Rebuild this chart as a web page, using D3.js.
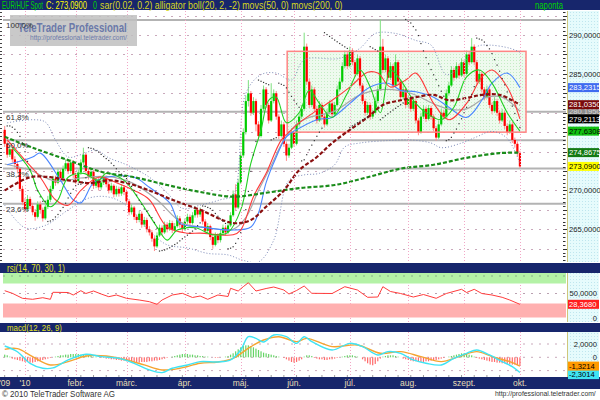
<!DOCTYPE html>
<html><head><meta charset="utf-8">
<script src="https://cdn.jsdelivr.net/npm/d3@7"></script>
<style>body{margin:0;background:#fff}svg{display:block;font-family:"Liberation Sans",Arial,sans-serif}</style>
</head><body><svg id="c" width="600" height="400"></svg>
<script>
// ---------------- DATA ----------------
const firstOpen = 277.8;
const close = [276.0,274.6,275.3,274.0,273.4,272.8,270.2,268.5,267.6,268.9,
268.0,267.2,266.6,268.2,267.5,266.4,267.9,268.8,270.2,271.5,
271.0,272.4,271.6,272.8,273.5,272.5,273.6,272.0,271.2,272.3,
273.6,274.6,272.5,271.8,272.4,270.6,271.4,270.4,271.0,271.6,
270.8,270.0,270.6,269.5,270.2,269.6,270.4,269.8,268.6,267.2,
267.8,266.6,266.2,267.0,265.6,266.2,265.0,264.6,263.8,262.8,
264.2,265.2,264.6,265.6,265.0,265.8,264.9,265.4,266.4,265.6,
265.0,266.0,266.6,265.8,266.8,267.5,266.9,267.4,266.0,264.8,
265.4,264.0,263.0,264.2,263.6,264.5,265.2,264.6,265.5,266.8,
269.5,267.8,271.0,274.5,277.5,281.5,282.5,280.0,281.5,278.5,
277.0,280.5,283.0,281.0,279.0,281.5,282.5,279.5,277.0,278.5,
276.0,274.5,275.5,277.5,276.0,278.5,279.5,280.5,288.5,284.0,
281.0,283.0,280.5,279.0,281.0,279.5,278.5,280.0,281.2,279.8,
281.0,283.0,284.0,286.0,287.5,286.0,288.0,286.5,285.0,287.0,
283.5,281.5,280.0,281.0,279.5,280.0,281.5,283.0,288.5,285.5,
287.0,284.5,286.0,283.5,286.5,284.0,282.0,283.0,281.0,281.8,
280.5,281.5,279.0,277.5,279.5,280.5,279.2,280.6,279.5,278.0,
276.8,278.5,280.0,279.5,282.5,283.5,285.5,284.5,286.0,284.8,
286.5,285.0,287.5,286.5,288.5,286.5,284.0,285.0,283.0,282.0,
283.0,281.0,280.2,281.5,280.0,279.0,280.0,278.3,277.5,278.5,
276.5,276.0,274.8,273.09];
const high = [278.3,276.4,275.8,275.6,274.4,273.8,273.0,270.6,269.0,269.4,
269.2,268.4,267.6,268.6,268.6,267.8,268.3,269.3,270.6,271.9,
271.9,272.8,272.7,273.2,274.0,273.8,274.0,273.9,272.3,272.7,
274.0,275.5,274.8,272.9,272.8,272.6,271.8,271.7,271.4,272.0,
271.9,271.1,271.0,270.8,270.6,270.5,270.8,270.7,270.1,268.9,
268.2,268.0,266.9,267.4,267.3,266.6,266.5,265.4,264.9,264.1,
264.6,265.6,265.5,266.0,265.9,266.2,266.1,265.8,266.8,266.7,
265.9,266.4,267.0,266.9,267.2,268.0,267.8,267.8,267.6,266.3,
265.8,265.6,264.3,264.6,264.5,264.9,265.6,265.5,265.9,267.2,
270.0,270.8,271.5,275.0,278.0,282.2,284.2,282.8,282.0,281.8,
278.9,281.0,283.5,283.3,281.3,283.8,283.0,282.8,279.8,279.0,
278.8,276.3,276.0,278.0,277.8,279.0,280.0,281.0,290.3,288.9,
284.4,283.5,283.3,280.9,281.5,281.3,279.9,280.5,281.6,281.5,
281.4,283.5,284.5,286.5,288.0,287.8,288.5,288.3,286.8,287.5,
287.3,283.8,281.8,281.4,281.3,280.4,282.0,283.5,292.0,289.5,
287.5,287.3,286.5,286.3,287.5,286.8,284.3,283.5,283.3,282.3,
282.1,282.0,281.8,279.3,280.0,281.0,280.8,281.0,280.9,279.8,
278.3,279.0,280.5,280.4,283.0,284.0,286.0,285.8,286.5,286.3,
287.0,286.8,288.0,287.8,289.6,288.8,286.8,285.5,285.3,283.3,
283.5,283.3,281.3,282.0,281.8,280.3,280.5,280.3,278.6,279.0,
278.8,276.8,276.3,275.1];
const low = [275.6,274.2,274.3,273.6,272.9,272.3,269.9,268.1,267.2,267.3,
267.6,266.8,266.1,266.4,267.0,266.0,266.2,267.6,268.5,270.0,
270.6,270.8,271.2,271.4,272.5,272.1,272.2,271.6,270.8,271.0,
272.0,273.3,272.2,271.4,271.5,270.2,270.3,270.0,270.1,270.7,
270.4,269.6,269.7,269.1,269.2,269.2,269.3,269.4,268.2,266.8,
266.9,266.2,265.8,265.9,265.2,265.3,264.6,264.2,263.4,262.2,
262.6,264.0,264.2,264.4,264.6,264.8,264.5,264.6,265.2,265.2,
264.6,264.8,265.7,265.4,265.6,266.5,266.5,266.6,265.6,264.4,
264.5,263.6,262.5,262.8,263.2,263.3,264.2,264.2,264.4,265.3,
266.6,267.4,267.6,270.8,274.2,277.2,280.8,279.6,279.7,277.6,
276.5,276.8,280.2,280.6,278.6,278.8,281.2,279.1,276.6,276.8,
275.6,273.8,274.2,275.3,275.6,275.8,278.2,279.2,280.2,283.6,
280.6,280.7,280.1,278.6,278.8,279.1,278.1,278.3,279.8,279.4,
279.6,280.8,282.7,283.8,285.7,285.6,285.8,286.1,284.6,284.8,
283.1,281.1,279.6,279.7,279.1,279.2,279.8,281.2,282.8,285.1,
285.2,284.1,284.2,283.1,283.3,283.6,281.6,281.7,280.6,280.7,
280.1,280.2,278.6,277.1,277.3,279.2,278.8,279.0,279.1,277.6,
276.4,276.6,278.3,279.1,279.3,282.2,283.3,284.1,284.3,284.4,
284.6,284.6,284.8,286.1,286.3,286.1,283.6,283.7,282.6,281.6,
281.8,280.6,279.8,280.0,279.6,278.6,278.8,277.9,277.1,277.3,
276.1,275.5,274.4,272.9];

// indicator readings: [candle index, value]
const sma200 = [[0,276.9],[11,275.5],[25,273.9],[38,272.4],[51,271.7],[64,270.7],[77,269.8],[90,269.2],[103,269.7],[116,270.3],[130,270.7],[143,271.7],[156,272.8],[169,273.3],[182,274.2],[195,274.8],[203,274.8675]];
const sma50 = [[0,270.0],[10,271.7],[18,271.7],[25,271.3],[34,270.95],[41,271.3],[48,270.95],[57,270.0],[66,268.8],[77,267.5],[90,265.8],[97,266.2],[103,267.9],[110,270.0],[116,272.6],[123,274.3],[129,276.1],[136,277.8],[143,279.4],[149,281.0],[156,281.6],[162,282.0],[169,282.3],[175,281.6],[182,281.9],[188,282.3],[195,282.3],[203,281.035]];
const bollUp = [[1,278.7],[11,279.1],[16,278.8],[20,276.5],[25,274.3],[30,274.6],[36,275.2],[41,274.2],[48,273.3],[57,271.7],[64,269.7],[70,267.7],[77,268.1],[85,268.8],[90,269.4],[95,282.5],[101,284.9],[107,285.1],[113,284.2],[118,286.8],[132,287.0],[140,288.3],[146,290.2],[154,290.2],[162,289.3],[168,288.7],[174,284.9],[180,286.1],[186,288.5],[191,288.7],[199,288.3],[203,287.8]];
const bollLo = [[0,268.1],[8,265.2],[16,265.5],[25,267.5],[33,269.0],[40,269.2],[46,268.5],[52,266.8],[58,264.5],[64,263.0],[72,262.6],[80,261.9],[88,261.7],[94,261.0],[100,260.8],[106,263.6],[112,271.3],[118,272.0],[124,272.2],[130,273.3],[134,275.6],[140,276.1],[150,276.4],[160,276.5],[168,276.1],[172,275.5],[180,276.1],[186,276.9],[192,277.6],[198,276.7],[203,273.5]];
const bollMid = [[0,273.4],[10,272.6],[20,271.2],[30,271.6],[40,271.8],[50,271.0],[60,268.8],[70,265.8],[80,265.2],[90,265.0],[95,266.5],[100,270.0],[105,273.2],[110,276.5],[115,278.5],[120,279.4],[130,280.2],[140,282.3],[150,283.0],[160,282.5],[170,281.0],[176,280.4],[182,280.5],[190,282.0],[196,282.0],[203,280.195]];
const jaw = [[1,273.3],[11,274.3],[14,274.8],[22,271.3],[27,268.8],[30,268.4],[35,271.0],[40,271.7],[51,271.7],[57,270.4],[65,268.4],[69,265.8],[77,265.3],[90,264.9],[97,265.3],[100,267.1],[103,271.0],[107,274.3],[111,276.9],[115,277.8],[123,279.1],[129,279.4],[136,281.2],[144,283.3],[151,283.8],[156,282.9],[162,282.7],[169,282.0],[175,280.7],[182,279.4],[188,281.6],[192,283.8],[198,285.1],[203,283.2315]];
const teeth = [[1,276.5],[8,273.9],[14,271.7],[20,268.8],[25,268.1],[30,270.0],[37,271.7],[44,271.0],[51,270.0],[57,268.8],[64,265.3],[72,264.5],[77,264.5],[90,264.3],[93,264.9],[98,269.2],[103,272.2],[109,276.5],[113,277.8],[116,278.7],[123,280.3],[129,281.6],[136,283.3],[143,285.2],[147,285.1],[152,283.3],[158,284.2],[162,285.1],[169,281.2],[175,279.1],[182,281.2],[188,284.6],[192,285.5],[198,283.3],[203,279.2113]];
const lips = [[3,275.5],[10,272.6],[13,270.0],[18,267.9],[21,268.8],[25,271.7],[31,272.2],[37,271.3],[40,272.2],[47,271.3],[53,268.8],[60,265.3],[64,263.6],[68,264.9],[75,265.2],[82,264.3],[88,264.6],[93,267.5],[97,273.5],[101,277.8],[104,281.6],[107,282.0],[111,278.7],[116,280.0],[120,282.9],[124,281.2],[129,279.4],[135,282.5],[140,285.5],[144,283.3],[148,280.0],[152,285.5],[156,284.2],[161,281.6],[166,280.0],[172,279.1],[177,280.7],[182,284.6],[187,285.5],[192,283.8],[198,280.0],[203,277.6308]];
const rsi = [[0,55.6],[3,50.4],[7,40.4],[11,38.4],[15,41.6],[18,38.4],[19,52.4],[25,52],[27,47],[30,55.6],[32,50],[35,55],[38,49],[41,43.6],[44,47],[48,40.4],[53,37],[57,33.6],[60,28.4],[62,37],[66,47],[70,50.4],[74,42],[77,45],[80,38.4],[84,47],[88,44],[89,60.4],[92,55],[94,63.6],[96,71.6],[99,55],[103,60],[106,63],[110,57],[112,49],[115,56],[118,65],[121,50.4],[129,50],[134,63.6],[139,57],[143,42.4],[147,43],[149,63.6],[152,54],[156,50],[161,43],[165,48],[170,40.4],[174,50],[180,58.4],[182,52],[185,58.4],[188,50],[192,47],[196,42.4],[199,37],[203,28.368]];
const macd = [[0,1.7],[5,0.84],[10,-0.9],[15,-1.65],[19,-1.6],[25,-0.4],[32,0.45],[38,0.1],[45,-0.15],[51,-0.9],[57,-1.9],[62,-2.3],[66,-1.65],[72,-1.15],[77,-0.65],[84,-0.7],[89,-0.4],[93,1.1],[96,3.1],[99,2.85],[102,2.3],[106,3.35],[111,3.1],[115,2.1],[118,3.1],[121,2.35],[129,1.1],[136,2.1],[141,1.6],[147,0.35],[151,0.85],[156,0.6],[161,-0.4],[166,-0.9],[172,-1.15],[177,-0.15],[182,0.6],[186,1.1],[191,0.35],[196,-0.65],[200,-1.4],[203,-2.3]];
const signal = [[0,1.2],[5,1.3],[11,0.1],[18,-1.15],[25,-0.65],[32,0.2],[40,0.2],[48,-0.4],[55,-1.15],[62,-1.9],[69,-1.65],[77,-0.9],[84,-0.7],[90,-0.15],[97,1.6],[102,2.6],[108,3.1],[115,2.35],[119,2.85],[129,1.6],[139,1.85],[148,0.6],[156,0.85],[164,0.1],[172,-0.65],[179,0.1],[186,0.85],[192,0.1],[199,-0.65],[203,-1.3214]];
const hist = [0.4,0.3,0.1,
-0.2,-0.3,-0.4,-0.5,-0.6,-0.7,-0.7,
-0.8,-0.8,-0.7,-0.6,-0.5,-0.4,-0.3,
-0.2,-0.1,0.0,0.1,
0.2,0.3,0.3,0.4,0.4,0.5,0.5,0.5,0.5,0.4,0.4,0.3,0.3,0.2,
0.1,0.1,0.0,-0.1,-0.1,-0.2,
-0.2,-0.3,-0.3,-0.4,-0.4,-0.5,-0.5,-0.6,-0.6,-0.7,-0.7,-0.8,-0.8,-0.7,-0.7,-0.7,-0.6,-0.6,-0.5,-0.5,-0.4,-0.3,-0.2,-0.1,0.0,
0.1,0.2,0.3,0.4,0.5,0.5,0.5,0.4,0.4,0.3,0.3,0.2,0.2,0.1,0.1,0.0,0.0,
-0.1,-0.1,0.0,0.0,0.1,0.2,
0.4,0.6,0.9,1.2,1.5,1.7,1.8,1.8,1.7,1.5,1.3,1.1,0.9,0.7,0.6,0.5,
0.4,0.3,0.2,0.1,0.0,-0.1,
-0.3,-0.5,-0.7,-0.8,-0.7,-0.5,-0.3,
0.1,0.3,0.3,0.2,
-0.1,-0.2,-0.3,-0.3,-0.4,-0.4,-0.3,-0.3,-0.2,-0.1,0.0,
0.1,0.2,0.3,0.3,0.3,0.2,0.1,0.0,
-0.3,-0.6,-0.9,-1.1,-1.2,-1.0,-0.6,
-0.2,0.1,0.2,0.3,0.3,0.3,0.2,0.1,0.0,
-0.2,-0.3,-0.4,-0.5,-0.6,-0.6,-0.7,-0.7,-0.7,-0.6,-0.6,-0.5,-0.5,-0.4,-0.3,-0.2,-0.1,0.0,
0.1,0.2,0.3,0.4,0.5,0.6,0.6,0.5,0.4,0.3,0.1,
-0.1,-0.2,-0.3,-0.4,-0.5,-0.6,-0.7,-0.7,-0.8,-0.8,-0.9,-0.9,-1.0,-1.0,-1.1,-1.1,-1.2,-1.2];

const monthLabels = ["'09","'10","febr.","márc.","ápr.","máj.","jún.","júl.","aug.","szept.","okt."];
const monthIdx = [0,8,28,48,71,93,114,136,159,181,203];
const fibLevels = [1, 0.618, 0.5, 0.382, 0.236];
const fibLabels = ["100,0%","61,8%","50,0%","38,2%","23,6%"];
const fibHigh = 291.93, fibLow = 261.0;
const annoBox = {from: 111.3, to: 205.4, top: 287.9, bottom: 277.5};
const priceTicks = [265, 270, 275, 280, 285, 290];
const priceTags = [
  {v: 283.2315, bg: "#3f6cf0", fg: "#ffffff"},
  {v: 280.1950, bg: "#8c8c8c", fg: "#d8d8d8"},
  {v: 281.0350, bg: "#7a0a0a", fg: "#ffffff"},
  {v: 279.2113, bg: "#000000", fg: "#ffffff"},
  {v: 277.6308, bg: "#10c010", fg: "#000000"},
  {v: 274.8675, bg: "#137a13", fg: "#ffffff"},
  {v: 273.0900, bg: "#ffff00", fg: "#000000"}];
const rsiTicks = [50, 0];
const rsiTag = 28.3680;
const macdTicks = [2, 0, -2];
const macdTag = -1.3214, macdLineTag = -2.3014;

// ---------------- LAYOUT ----------------
const svg = d3.select("#c");
const plotL = 3, plotR = 566, axL = 567, axR = 599;
const mainT = 11, mainB = 262, rsiT = 273, rsiB = 322, macdT = 332, macdB = 377;
const navy = "#17266c";
const fmt = v => v.toFixed(4).replace(".", ",");

const x = d3.scaleLinear().domain([0, 203]).range([4.7, 4.7 + 203 * 2.538]);
const y = d3.scaleLinear().domain([260.79, 293.09]).range([mainB, mainT]);
const yR = d3.scaleLinear().domain([0, 100]).range([318.5, 268.5]);
const yM = d3.scaleLinear().domain([0, 2]).range([357.3, 344]);

const defs = svg.append("defs");
function clip(id, x0, y0, x1, y1) {
  defs.append("clipPath").attr("id", id).append("rect").attr("x", x0).attr("y", y0).attr("width", x1 - x0).attr("height", y1 - y0);
}
clip("cMain", plotL, mainT, plotR, mainB);
clip("cRsi", plotL, rsiT, plotR, rsiB);
clip("cMacd", plotL, macdT, plotR, macdB);
const pCy = defs.append("pattern").attr("id", "cyan").attr("width", 3).attr("height", 3).attr("patternUnits", "userSpaceOnUse");
pCy.append("rect").attr("width", 3).attr("height", 3).attr("fill", "#e6fbfc");
pCy.append("rect").attr("width", 1).attr("height", 1).attr("fill", "#bfe6ee");
const pGr = defs.append("pattern").attr("id", "grn").attr("width", 3).attr("height", 3).attr("patternUnits", "userSpaceOnUse");
pGr.append("rect").attr("width", 3).attr("height", 3).attr("fill", "#eefaee");
pGr.append("rect").attr("width", 1).attr("height", 1).attr("fill", "#c4ecc4");

// text fitted to a target width by horizontal scaling (keeps real bounding boxes)
function fitText(t, x0, yb, w, fs, col, bold) {
  const el = svg.append("text").attr("x", 0).attr("y", 0).attr("font-size", fs).attr("fill", col)
    .attr("font-weight", bold ? "bold" : null).text(t);
  const len = el.node().getComputedTextLength() || w;
  el.attr("transform", `translate(${x0},${yb}) scale(${w / len},1)`);
  return el;
}

// backgrounds
svg.append("rect").attr("width", 600).attr("height", 400).attr("fill", "#ffffff");
svg.append("rect").attr("x", 0).attr("y", 0).attr("width", 600).attr("height", 10).attr("fill", navy);
svg.append("rect").attr("x", 0).attr("y", 263).attr("width", 600).attr("height", 10).attr("fill", navy);
svg.append("rect").attr("x", 0).attr("y", 323).attr("width", 600).attr("height", 9).attr("fill", navy);
svg.append("rect").attr("x", 0).attr("y", 377).attr("width", 600).attr("height", 12).attr("fill", navy);
[[mainT, mainB], [rsiT, rsiB], [macdT, macdB]].forEach(([t, b]) => {
  svg.append("rect").attr("x", axL).attr("y", t).attr("width", axR - axL).attr("height", b - t).attr("fill", "url(#cyan)");
  svg.append("line").attr("x1", axL + 0.5).attr("x2", axL + 0.5).attr("y1", t).attr("y2", b).attr("stroke", "#cfc77a");
});

// header texts
fitText("EUR/HUF Spot", 2, 8.6, 41, 10, "#00d400");
fitText("C: 273,0900", 46, 8.6, 41, 10, "#ffff00");
fitText("0", 93, 8.6, 4, 10, "#00d400");
fitText("sar(0.02, 0.2) alligator boll(20, 2, -2) movs(50, 0) movs(200, 0)", 100, 8.6, 243, 10, "#d8d820");
fitText("naponta", 535, 8.6, 28, 10, "#00d400");
fitText("rsi(14, 70, 30, 1)", 7, 271.6, 58, 10, "#e0e020");
fitText("macd(12, 26, 9)", 7, 330.8, 55, 9.5, "#e0e020");

// ---------------- MAIN PANEL ----------------
const gMain = svg.append("g").attr("clip-path", "url(#cMain)");
gMain.selectAll(".hg").data(d3.range(262.5, 293.1, 2.5)).join("line")
  .attr("x1", plotL).attr("x2", plotR).attr("y1", d => Math.round(y(d)) + 0.5).attr("y2", d => Math.round(y(d)) + 0.5)
  .attr("stroke", "#c9a9bb").attr("stroke-dasharray", "2,6");
[[mainT, mainB], [rsiT, rsiB], [macdT, macdB]].forEach(([t, b]) => {
  svg.selectAll(null).data(monthIdx.slice(1)).join("line")
    .attr("x1", d => Math.round(x(d)) + 0.5).attr("x2", d => Math.round(x(d)) + 0.5).attr("y1", t).attr("y2", b)
    .attr("stroke", "#f2a6c6").attr("stroke-dasharray", "1,2");
});
const fibPrice = f => fibLow + f * (fibHigh - fibLow);
gMain.selectAll(".fib").data(fibLevels).join("line")
  .attr("x1", plotL).attr("x2", plotR).attr("y1", d => y(fibPrice(d))).attr("y2", d => y(fibPrice(d)))
  .attr("stroke", "#b3b3b3").attr("stroke-width", 2);
gMain.append("rect").attr("x", x(annoBox.from)).attr("y", y(annoBox.top))
  .attr("width", x(annoBox.to) - x(annoBox.from)).attr("height", y(annoBox.bottom) - y(annoBox.top))
  .attr("fill", "url(#grn)");

// candles
const opens = close.map((c, i) => i === 0 ? firstOpen : close[i - 1]);
const candles = close.map((c, i) => ({i, o: opens[i], c, h: high[i], l: low[i]}));
gMain.selectAll(".wick").data(candles).join("line")
  .attr("x1", d => x(d.i)).attr("x2", d => x(d.i)).attr("y1", d => y(d.h)).attr("y2", d => y(d.l))
  .attr("stroke", d => d.c >= d.o ? "#7fe07f" : "#ff8a8a").attr("stroke-width", 1);
gMain.selectAll(".body").data(candles).join("rect")
  .attr("x", d => x(d.i) - 1.1).attr("width", 2.2)
  .attr("y", d => y(Math.max(d.o, d.c))).attr("height", d => Math.max(1, Math.abs(y(d.o) - y(d.c))))
  .attr("fill", d => d.c >= d.o ? "#00cc00" : "#ff0000");

gMain.append("rect").attr("x", x(annoBox.from)).attr("y", y(annoBox.top))
  .attr("width", x(annoBox.to) - x(annoBox.from)).attr("height", y(annoBox.bottom) - y(annoBox.top))
  .attr("fill", "none").attr("stroke", "#ff8484").attr("stroke-width", 1.5);

const lineP = d3.line().x(d => x(d[0])).y(d => y(d[1])).curve(d3.curveCatmullRom.alpha(0.5));
function drawLine(g, data, col, w, dash, gen) {
  g.append("path").datum(data).attr("d", gen).attr("fill", "none").attr("stroke", col)
    .attr("stroke-width", w).attr("stroke-dasharray", dash || null);
}
drawLine(gMain, bollUp, "#7d8bb8", 1, "1,2", lineP);
drawLine(gMain, bollLo, "#7d8bb8", 1, "1,2", lineP);
drawLine(gMain, bollMid, "#a8a8a8", 1.2, null, lineP);
drawLine(gMain, jaw, "#4a86ff", 1.1, null, lineP);
drawLine(gMain, teeth, "#ff3a3a", 1.1, null, lineP);
drawLine(gMain, lips, "#22d022", 1.1, null, lineP);
drawLine(gMain, sma200, "#1a8c1a", 2.2, "4,2", lineP);
drawLine(gMain, sma50, "#8a1010", 2.2, "4,2", lineP);

// parabolic SAR (0.02, 0.2) from the candle data
function psar(h, l, c) {
  const out = new Array(c.length).fill(null);
  let bull = c[1] >= c[0], sar = bull ? l[0] : h[0], ep = bull ? h[0] : l[0], af = 0.02;
  for (let i = 1; i < c.length; i++) {
    sar = sar + af * (ep - sar);
    if (bull) {
      sar = Math.min(sar, l[i - 1], i > 1 ? l[i - 2] : l[i - 1]);
      if (l[i] < sar) { bull = false; sar = ep; ep = l[i]; af = 0.02; }
      else if (h[i] > ep) { ep = h[i]; af = Math.min(af + 0.02, 0.2); }
    } else {
      sar = Math.max(sar, h[i - 1], i > 1 ? h[i - 2] : h[i - 1]);
      if (h[i] > sar) { bull = true; sar = ep; ep = h[i]; af = 0.02; }
      else if (l[i] < ep) { ep = l[i]; af = Math.min(af + 0.02, 0.2); }
    }
    out[i] = sar;
  }
  return out;
}
const sar = psar(high, low, close);
gMain.selectAll(".sar").data(sar.map((v, i) => [i, v]).filter(d => d[1] !== null)).join("rect")
  .attr("x", d => x(d[0]) - 0.6).attr("y", d => y(d[1]) - 0.6).attr("width", 1.2).attr("height", 1.2)
  .attr("fill", "#333");

// watermark
svg.append("rect").attr("x", 10).attr("y", 15).attr("width", 127).attr("height", 31).attr("fill", "#bfbfbf").attr("opacity", 0.85);
fitText("TeleTrader Professional", 18, 32, 109, 13, "#6b79a9", true);
fitText("http://professional.teletrader.com/", 30, 39.5, 97, 6.5, "#6b79a9");
svg.selectAll(".fibl").data(fibLevels).join("text")
  .attr("x", 6).attr("y", d => y(fibPrice(d)) + 8).attr("font-size", 8).attr("fill", "#333")
  .text((d, i) => fibLabels[i]);

// left / right minor ticks
svg.selectAll(".lt").data(d3.range(261, 293.1, 0.5)).join("line")
  .attr("x1", 0).attr("x2", 2).attr("y1", d => Math.round(y(d)) + 0.5).attr("y2", d => Math.round(y(d)) + 0.5)
  .attr("stroke", "#444");
svg.selectAll(".rt").data(d3.range(261, 293.1, 0.5)).join("line")
  .attr("x1", 563).attr("x2", d => d % 2.5 === 0 ? 567 : 565.5).attr("y1", d => Math.round(y(d)) + 0.5).attr("y2", d => Math.round(y(d)) + 0.5)
  .attr("stroke", "#333");
svg.selectAll(".pt").data(priceTicks).join("text")
  .attr("x", 569).attr("y", d => y(d) + 2.8).attr("font-size", 7.6).attr("fill", "#222").text(fmt);
function tag(v, yy, bg, fg) {
  svg.append("rect").attr("x", axL + 1).attr("y", yy - 4.5).attr("width", axR - axL - 1).attr("height", 9).attr("fill", bg);
  svg.append("text").attr("x", 569).attr("y", yy + 2.8).attr("font-size", 7.6).attr("fill", fg).text(fmt(v));
}
priceTags.forEach(t => tag(t.v, y(t.v), t.bg, t.fg));

// ---------------- RSI PANEL ----------------
const gR = svg.append("g").attr("clip-path", "url(#cRsi)");
gR.append("rect").attr("x", plotL).attr("width", plotR - plotL).attr("y", rsiT).attr("height", yR(70) - rsiT).attr("fill", "#b4f2a6");
gR.append("rect").attr("x", plotL).attr("width", plotR - plotL).attr("y", yR(30)).attr("height", yR(2) - yR(30)).attr("fill", "#ffb0b0");
gR.append("line").attr("x1", plotL).attr("x2", plotR).attr("y1", yR(50)).attr("y2", yR(50)).attr("stroke", "#b9a0b0").attr("stroke-dasharray", "2,6");
gR.append("line").attr("x1", plotL).attr("x2", plotR).attr("y1", yR(85)).attr("y2", yR(85)).attr("stroke", "#88b088").attr("stroke-dasharray", "2,6");
gR.append("path").datum(rsi).attr("d", d3.line().x(d => x(d[0])).y(d => yR(d[1])))
  .attr("fill", "none").attr("stroke", "#ff3c3c").attr("stroke-width", 1);
svg.selectAll(".rtk").data(rsiTicks).join("text")
  .attr("x", 597).attr("text-anchor", "end").attr("y", d => Math.min(yR(d) + 2.8, 320.5)).attr("font-size", 7.6).attr("fill", "#222")
  .text(d => d === 0 ? "0" : fmt(d));
tag(rsiTag, yR(rsiTag), "#ff1e1e", "#ffffff");

// ---------------- MACD PANEL ----------------
const gM = svg.append("g").attr("clip-path", "url(#cMacd)");
macdTicks.forEach(v => gM.append("line").attr("x1", plotL).attr("x2", plotR).attr("y1", yM(v)).attr("y2", yM(v))
  .attr("stroke", "#c9a9bb").attr("stroke-dasharray", "2,6"));
gM.selectAll(".hb").data(hist.map((v, i) => [i, v])).join("rect")
  .attr("x", d => x(d[0]) - 0.6).attr("width", 1.2)
  .attr("y", d => Math.min(yM(0), yM(d[1]))).attr("height", d => Math.abs(yM(d[1]) - yM(0)))
  .attr("fill", d => d[1] >= 0 ? "#66d466" : "#ff6a6a");
const lineM = d3.line().x(d => x(d[0])).y(d => yM(d[1])).curve(d3.curveCatmullRom.alpha(0.5));
gM.append("path").datum(signal).attr("d", lineM).attr("fill", "none").attr("stroke", "#f5a431").attr("stroke-width", 1.4);
gM.append("path").datum(macd).attr("d", lineM).attr("fill", "none").attr("stroke", "#3fe4f4").attr("stroke-width", 1.4);
svg.selectAll(".mtk").data(macdTicks).join("text")
  .attr("x", 597).attr("text-anchor", "end").attr("y", d => yM(d) + 2.8).attr("font-size", 7.6).attr("fill", "#222")
  .text(d => d === 0 ? "0" : fmt(d));
tag(macdLineTag, yM(macdLineTag) + 2, "#3fe4f4", "#000");
tag(macdTag, yM(macdTag), "#ff9a00", "#000");

svg.selectAll(".bt").data(d3.range(0, 204, 5)).join("line")
  .attr("x1", d => x(d)).attr("x2", d => x(d)).attr("y1", macdB - 2).attr("y2", macdB)
  .attr("stroke", "#999");

// ---------------- X AXIS ----------------
svg.selectAll(".ml").data(monthIdx).join("text")
  .attr("x", d => x(d)).attr("y", 386).attr("text-anchor", "middle")
  .attr("font-size", 8.5).attr("fill", "#e6dcb4").text((d, i) => monthLabels[i]);

// footer
fitText("© 2010 TeleTrader Software AG", 2, 396.5, 113, 8.5, "#333");
fitText("http://professional.teletrader.com/", 495, 396, 101, 7.5, "#333");
</script></body></html>
